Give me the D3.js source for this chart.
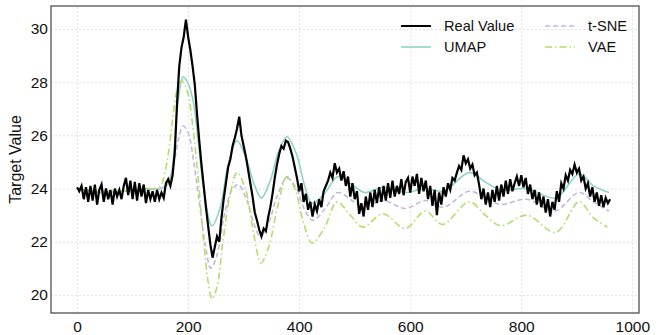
<!DOCTYPE html>
<html>
<head>
<meta charset="utf-8">
<script src="https://cdn.jsdelivr.net/npm/d3@7"></script>
<style>
  body { margin: 0; background: #fff; }
  text { font-family: "Liberation Sans", Arial, sans-serif; }
</style>
</head>
<body>
<div id="chart"></div>
<script>
// real value, sampled every 4 steps
var realStep = 4;
var realValues = [
  24.05, 23.9, 24.1, 23.6, 24.05, 23.5, 24.1, 23.55, 24.15, 23.4,
  23.95, 24.15, 23.5, 24.0, 23.6, 23.95, 23.4, 24.0, 23.7, 23.95,
  23.6, 24.1, 24.4, 23.75, 24.3, 23.6, 24.25, 23.55, 24.2, 23.7,
  24.15, 23.45, 23.95, 23.6, 23.9, 23.5, 23.95, 23.6, 23.85, 23.65,
  24.2, 24.35, 24.1, 24.5, 25.4, 27.2, 28.6, 29.3, 29.7, 30.35,
  29.7, 29.2, 28.6, 27.9, 26.8, 25.8, 24.9, 24.1, 23.3, 22.6,
  21.9, 21.4, 21.8, 22.2, 22.0, 22.9, 23.6, 24.2, 24.8, 25.1,
  25.6, 25.9, 26.25, 26.7, 26.0, 25.6, 25.2, 24.7, 24.2, 23.7,
  23.1, 22.8, 22.45, 22.2, 22.5, 22.4, 22.9, 23.3, 23.8, 24.4,
  24.9, 25.3, 25.6, 25.5, 25.8, 25.75, 25.5, 25.2, 24.8, 24.4,
  23.9, 24.2, 23.5, 23.8, 23.2, 23.5, 22.95, 23.4, 23.15, 23.6,
  23.3, 23.9, 24.1, 24.3, 24.6, 24.4, 24.95, 24.6, 24.75, 24.3,
  24.65, 24.1, 24.45, 23.7, 24.2, 23.6, 23.9, 23.05, 23.45, 22.95,
  23.7, 23.2, 23.85, 23.3, 23.95, 23.45, 24.05, 23.5, 24.1, 23.55,
  24.2, 23.65, 24.3, 23.7, 24.1, 23.8, 24.35, 23.75, 24.25, 24.4,
  23.85, 24.45, 24.1, 24.55, 23.8, 24.4, 23.9, 24.3, 23.6, 24.1,
  23.35, 23.95, 23.0, 23.85, 23.4, 24.05, 23.7, 24.2, 23.95, 24.4,
  24.3, 24.6, 24.85, 24.7, 25.25, 24.95, 25.1, 24.75, 24.9, 24.5,
  24.6, 24.15, 23.6, 24.0, 23.4, 23.85, 23.3, 23.95, 23.5, 24.1,
  23.55, 24.15, 23.7, 24.3, 23.8, 24.35, 23.9, 24.2, 24.45, 24.1,
  24.5, 24.05, 24.4, 23.8, 24.15, 23.6, 23.95, 23.4, 23.85, 23.3,
  23.7, 23.1, 23.6, 22.95, 23.5, 23.2, 23.9, 23.5, 24.2, 24.0,
  24.5, 24.3, 24.7, 24.55, 24.9, 24.6, 24.75, 24.3, 24.45, 24.0,
  24.2, 23.7, 24.05, 23.5, 23.85, 23.35, 23.75, 23.3, 23.65, 23.45,
  23.6
];

var umapX = [0, 40, 80, 120, 150, 160, 170, 176, 182, 191, 200, 209, 218, 228, 243, 258, 272, 288, 305, 320, 332, 348, 363, 378, 395, 410, 423, 445, 470, 495, 518, 551, 591, 627, 660, 706, 735, 763, 810, 862, 904, 930, 958];
var umapY = [24.0, 23.85, 23.9, 24.0, 24.0, 24.1, 24.6, 25.8, 27.3, 28.2, 27.95, 27.3, 25.8, 24.0, 22.6, 23.3, 24.9, 25.8, 25.1, 24.1, 23.65, 24.3, 25.4, 25.95, 25.3, 24.1, 23.45, 23.8, 24.45, 24.15, 23.85, 24.05, 23.85, 24.0, 23.9, 24.6, 24.25, 23.95, 24.0, 23.65, 24.55, 24.1, 23.85];

var tsneX = [0, 40, 80, 120, 150, 165, 175, 183, 191, 200, 210, 220, 230, 241, 252, 265, 278, 290, 305, 318, 330, 345, 360, 378, 395, 410, 425, 445, 470, 495, 515, 551, 591, 627, 660, 706, 735, 763, 810, 860, 904, 930, 958];
var tsneY = [24.0, 23.9, 23.9, 23.95, 24.0, 24.2, 25.0, 25.9, 26.35, 26.1, 25.0, 23.5, 22.0, 21.0, 21.5, 23.0, 23.9, 24.15, 23.6, 22.7, 22.2, 22.7, 23.7, 24.4, 24.0, 23.2, 22.8, 23.2, 23.85, 23.55, 23.3, 23.55, 23.25, 23.55, 23.3, 23.9, 23.65, 23.4, 23.6, 23.15, 23.85, 23.5, 23.15];

var vaeX = [0, 40, 80, 120, 150, 158, 165, 172, 180, 188, 198, 208, 218, 228, 236, 243, 252, 262, 275, 288, 303, 318, 331, 345, 362, 378, 392, 408, 423, 445, 468, 492, 515, 551, 591, 627, 658, 706, 735, 763, 810, 862, 904, 930, 955];
var vaeY = [24.0, 23.9, 23.9, 23.95, 24.1, 24.6, 25.4, 26.6, 27.7, 28.05, 27.7, 26.4, 24.4, 22.0, 20.5, 19.85, 20.3, 21.9, 23.7, 24.6, 24.0, 22.3, 21.2, 21.8, 23.4, 24.45, 24.0, 22.7, 21.95, 22.5, 23.5, 23.0, 22.55, 23.05, 22.5, 23.15, 22.65, 23.5, 23.0, 22.6, 23.0, 22.35, 23.5, 22.9, 22.55];

var xTicks = [0, 200, 400, 600, 800, 1000];
var yTicks = [20, 22, 24, 26, 28, 30];

var width = 664, height = 335;
var margin = {top: 6, right: 25, bottom: 22, left: 51};

var svg = d3.select("#chart")
            .append("svg")
            .attr("width", width)
            .attr("height", height);

var x = d3.scaleLinear().domain([-47, 1012]).range([margin.left, width - margin.right]);
var y = d3.scaleLinear().domain([19.32, 30.865]).range([height - margin.bottom, margin.top]);

// grid
svg.append("g")
   .attr("transform", "translate(0," + (height - margin.bottom) + ")")
   .call(d3.axisBottom(x).tickValues(xTicks).tickSize(-(height - margin.top - margin.bottom)).tickFormat(""))
   .call(g => g.select(".domain").remove())
   .selectAll("line").attr("stroke", "#e2e2e2").attr("stroke-dasharray", "2,2");

svg.append("g")
   .attr("transform", "translate(" + margin.left + ",0)")
   .call(d3.axisLeft(y).tickValues(yTicks).tickSize(-(width - margin.left - margin.right)).tickFormat(""))
   .call(g => g.select(".domain").remove())
   .selectAll("line").attr("stroke", "#e2e2e2").attr("stroke-dasharray", "2,2");

// tick labels
var xAxis = svg.append("g")
   .attr("transform", "translate(0," + (height - margin.bottom) + ")")
   .call(d3.axisBottom(x).tickValues(xTicks).tickSize(0).tickPadding(8).tickFormat(d3.format("d")));
xAxis.select(".domain").remove();
xAxis.selectAll("text").attr("font-size", 15.5).attr("fill", "#111").style("font-family", "Liberation Sans, Arial, sans-serif");

var yAxis = svg.append("g")
   .attr("transform", "translate(" + margin.left + ",0)")
   .call(d3.axisLeft(y).tickValues(yTicks).tickSize(0).tickPadding(3));
yAxis.select(".domain").remove();
yAxis.selectAll("text").attr("font-size", 15.5).attr("fill", "#111").style("font-family", "Liberation Sans, Arial, sans-serif");

svg.append("text")
   .attr("transform", "translate(21," + ((margin.top + height - margin.bottom) / 2) + ") rotate(-90)")
   .attr("text-anchor", "middle")
   .attr("font-size", 16)
   .attr("fill", "#111")
   .text("Target Value");

// lines
var umapLine = d3.line().x(function(d, i){ return x(umapX[i]); }).y(function(d){ return y(d); }).curve(d3.curveCatmullRom);
var tsneLine = d3.line().x(function(d, i){ return x(tsneX[i]); }).y(function(d){ return y(d); }).curve(d3.curveCatmullRom);
var vaeLine = d3.line().x(function(d, i){ return x(vaeX[i]); }).y(function(d){ return y(d); }).curve(d3.curveCatmullRom);
var realLine = d3.line().x(function(d, i){ return x(i * realStep); }).y(function(d){ return y(d); });

var plot = svg.append("g");

plot.append("path").datum(umapY)
    .attr("d", umapLine).attr("fill", "none")
    .attr("stroke", "#8dd3c7").attr("stroke-width", 1.6);

plot.append("path").datum(tsneY)
    .attr("d", tsneLine).attr("fill", "none")
    .attr("stroke", "#bebada").attr("stroke-width", 1.6).attr("stroke-dasharray", "5,3");

plot.append("path").datum(vaeY)
    .attr("d", vaeLine).attr("fill", "none")
    .attr("stroke", "#b3de69").attr("stroke-width", 1.6).attr("stroke-dasharray", "7,3,1.5,3");

plot.append("path").datum(realValues)
    .attr("d", realLine).attr("fill", "none")
    .attr("stroke", "#000").attr("stroke-width", 2.2).attr("stroke-linejoin", "miter");

// frame
svg.append("rect")
   .attr("x", margin.left).attr("y", margin.top)
   .attr("width", width - margin.left - margin.right)
   .attr("height", height - margin.top - margin.bottom)
   .attr("fill", "none").attr("stroke", "#444").attr("stroke-width", 1.2);

// legend
var legendItems = [
  {name: "Real Value", color: "#000", width: 2, dash: null, lx: 401, ly: 26},
  {name: "UMAP", color: "#8dd3c7", width: 1.6, dash: null, lx: 401, ly: 47},
  {name: "t-SNE", color: "#bebada", width: 1.6, dash: "5,3", lx: 545, ly: 26},
  {name: "VAE", color: "#b3de69", width: 1.6, dash: "7,3,1.5,3", lx: 545, ly: 47}
];

var legend = svg.selectAll(".legend")
   .data(legendItems)
   .enter().append("g")
   .attr("class", "legend");

legend.append("line")
   .attr("x1", function(d){ return d.lx; })
   .attr("x2", function(d){ return d.lx + 30; })
   .attr("y1", function(d){ return d.ly; })
   .attr("y2", function(d){ return d.ly; })
   .attr("stroke", function(d){ return d.color; })
   .attr("stroke-width", function(d){ return d.width; })
   .attr("stroke-dasharray", function(d){ return d.dash; });

legend.append("text")
   .attr("x", function(d){ return d.lx + 43; })
   .attr("y", function(d){ return d.ly + 5; })
   .attr("font-size", 14.6)
   .attr("fill", "#111")
   .text(function(d){ return d.name; });
</script>
</body>
</html>
